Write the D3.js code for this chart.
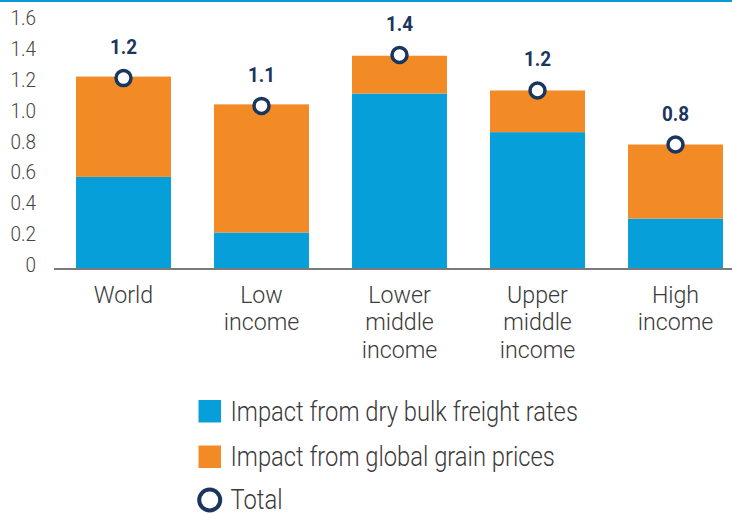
<!DOCTYPE html>
<html><head><meta charset="utf-8">
<script src="https://cdn.jsdelivr.net/npm/d3@7"></script>
<style>
body{margin:0;background:#fff;}
text{font-family:Roboto,"Noto Sans",sans-serif;}
</style></head>
<body><svg id="c" width="732" height="514"></svg>
<script>
const categories = [["World"],["Low","income"],["Lower","middle","income"],["Upper","middle","income"],["High","income"]];
const freight = [0.59, 0.23, 1.13, 0.88, 0.32];
const grain = [0.65, 0.83, 0.245, 0.27, 0.48];
const totals = [1.23, 1.05, 1.38, 1.15, 0.80];
const totalLabels = ["1.2","1.1","1.4","1.2","0.8"];
const yTicks = [0,0.2,0.4,0.6,0.8,1.0,1.2,1.4,1.6];
const seriesNames = ["Impact from dry bulk freight rates","Impact from global grain prices","Total"];

const blue="#079fd9", orange="#f28a26", navy="#1b365d", txt="#3a3a3a";
const SX=0.88; // emulate condensed face
const svg=d3.select("#c");
const x=d3.scaleBand().domain(d3.range(categories.length)).range([54.5,744.5]).paddingInner(0.312).paddingOuter(0.156);
const y=d3.scaleLinear().domain([0,1.6]).range([268,21]);

function ctext(parent,px,py,str,opts){
  const g=parent.append("g").attr("transform",`translate(${px},${py}) scale(${opts.sx||SX},1)`);
  const t=g.append("text").attr("x",0).attr("y",0).attr("text-anchor",opts.anchor||"start")
    .attr("font-size",opts.size).attr("font-weight",opts.weight||300).attr("fill",opts.fill||txt);
  if(Array.isArray(str)){
    t.selectAll("tspan").data(str).join("tspan").attr("x",0).attr("dy",(s,j)=>j===0?0:opts.lh).text(s=>s);
  } else t.text(str);
  return t;
}

svg.append("line").attr("x1",0).attr("x2",732).attr("y1",1).attr("y2",1).attr("stroke","#0a9ad6").attr("stroke-width",2);

// y ticks
const yt=svg.append("g");
yTicks.forEach(d=>ctext(yt,36,y(d)+4,d===0?"0":d.toFixed(1),{size:21,anchor:"end",fill:"#444",sx:0.9}));

const g=svg.append("g");
g.selectAll(".b").data(freight).join("rect")
 .attr("x",(d,i)=>x(i)).attr("width",x.bandwidth()).attr("y",d=>y(d)).attr("height",d=>y(0)-y(d)).attr("fill",blue);
g.selectAll(".o").data(grain).join("rect")
 .attr("x",(d,i)=>x(i)).attr("width",x.bandwidth()).attr("y",(d,i)=>y(freight[i]+d)).attr("height",(d,i)=>y(freight[i])-y(freight[i]+d)).attr("fill",orange);

svg.append("line").attr("x1",54).attr("x2",732).attr("y1",y(0)+1).attr("y2",y(0)+1).attr("stroke","#7a7a7a").attr("stroke-width",2);

svg.selectAll(".t").data(totals).join("circle")
 .attr("cx",(d,i)=>x(i)+x.bandwidth()/2).attr("cy",d=>y(d)).attr("r",7.5)
 .attr("fill","#fff").attr("stroke",navy).attr("stroke-width",3.5);
const tl=svg.append("g");
totals.forEach((d,i)=>ctext(tl,x(i)+x.bandwidth()/2,y(d)-24,totalLabels[i],{size:21,weight:700,anchor:"middle",fill:navy,sx:0.9}));

// x labels (one text element per category, lines as tspans)
const xl=svg.append("g");
categories.forEach((lines,i)=>ctext(xl,x(i)+x.bandwidth()/2,303,lines,{size:23.2,anchor:"middle",lh:27.4,sx:1.0}));

// legend
const lg=svg.append("g");
lg.append("rect").attr("x",198.5).attr("y",400).attr("width",22.5).attr("height",22.5).attr("fill",blue);
lg.append("rect").attr("x",198.5).attr("y",445.5).attr("width",22.5).attr("height",22.5).attr("fill",orange);
lg.append("circle").attr("cx",209.7).attr("cy",500).attr("r",10.5).attr("fill","#fff").attr("stroke",navy).attr("stroke-width",4);
seriesNames.forEach((s,i)=>ctext(lg,230.5,[421,466,509][i],s,{size:27}));
</script></body></html>
